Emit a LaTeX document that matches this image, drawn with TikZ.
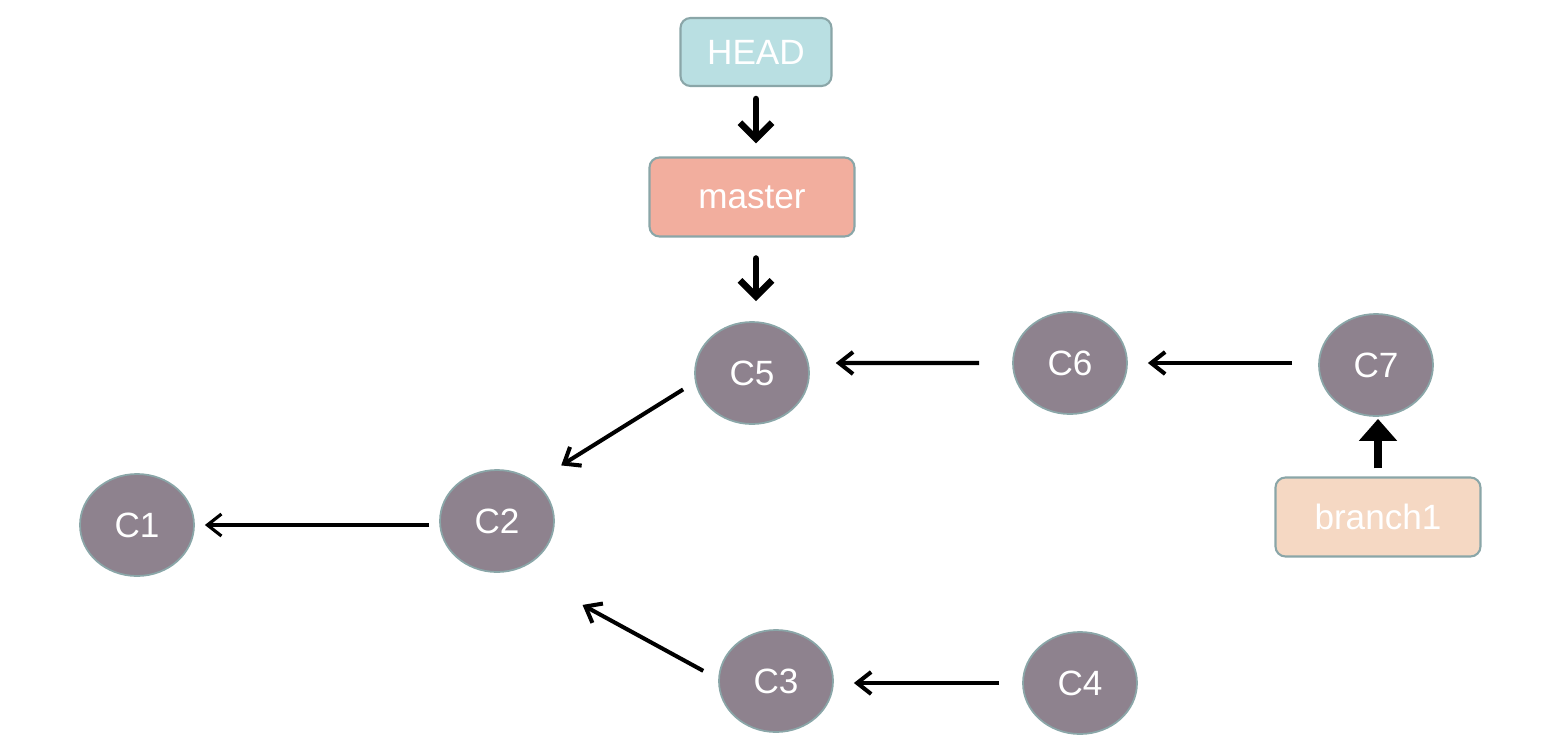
\documentclass[tikz,border=0pt]{standalone}
\usepackage{fontspec}
\setmainfont{Liberation Sans}
\usetikzlibrary{arrows.meta,shapes.geometric}

\definecolor{headcol}{HTML}{B9DFE2}
\definecolor{mastercol}{HTML}{F2AE9E}
\definecolor{branchcol}{HTML}{F5D8C3}
\definecolor{commitcol}{HTML}{8E828E}
\definecolor{edgecol}{HTML}{8AA6A8}

\begin{document}
\begin{tikzpicture}[
    font=\fontsize{10}{12}\selectfont,
    commit/.style={ellipse, fill=commitcol, draw=edgecol, line width=0.5pt,
        minimum width=1.14cm, minimum height=1.02cm, inner sep=0pt, text=white},
    ref/.style={rounded corners=0.1cm, draw=edgecol, line width=0.6pt,
        minimum height=0.79cm, minimum width=2.05cm, text=white},
    parent/.style={line width=1.15pt, -{Straight Barb[length=1.4mm,width=2.2mm]}},
    points/.style={line width=1.9pt, line cap=round,
        -{Straight Barb[length=1.6mm,width=3.2mm]}},
    pointsup/.style={line width=2pt, -{Triangle[length=2.2mm,width=3.7mm]}}
]
    \useasboundingbox (0,0) rectangle (15.55,7.52);

    % Referencias
    \node[ref, fill=headcol, minimum width=1.51cm, minimum height=0.68cm] (HEAD) at (7.56,7.00) {HEAD};
    \node[ref, fill=mastercol] (master) at (7.52,5.55) {master};
    \node[ref, fill=branchcol] (branch1) at (13.78,2.35) {branch1};

    % Commits
    \node[commit] (C1) at (1.37,2.27) {C1};
    \node[commit] (C2) at (4.97,2.31) {C2};
    \node[commit] (C3) at (7.76,0.71) {C3};
    \node[commit] (C4) at (10.80,0.69) {C4};
    \node[commit] (C5) at (7.52,3.79) {C5};
    \node[commit] (C6) at (10.70,3.89) {C6};
    \node[commit] (C7) at (13.76,3.87) {C7};

    % Ponteiros
    \draw[points, shorten <=0.12cm, shorten >=0.13cm] (HEAD.south) -- (HEAD.south |- master.north);
    \draw[points, shorten <=0.21cm, shorten >=0.20cm] (HEAD.south |- master.south) -- (HEAD.south |- C5.north);
    \draw[pointsup, shorten <=0.08cm, shorten >=0.02cm] (branch1.north) -- (branch1.north |- C7.south);

    % Pais
    \draw[parent, shorten <=0.33cm, shorten >=0.27cm] (C6.west) -- (C5.10);
    \draw[parent, shorten <=0.26cm, shorten >=0.20cm] (C7.west |- C6.east) -- (C6.east);
    \draw[parent, shorten <=0.23cm, shorten >=0.20cm] (C4.west) -- (C4.west -| C3.east);
    \draw[parent, line width=0.9pt, shorten <=0.10cm, shorten >=0.10cm] (C2.west |- C1.east) -- (C1.east);
    \draw[parent, shorten <=0.14cm, shorten >=0.31cm] (C5.189) -- (C2.46);
    \draw[parent, shorten <=0.17cm, shorten >=0.74cm] (C3.178) -- (C2.293);

\end{tikzpicture}
\end{document}
